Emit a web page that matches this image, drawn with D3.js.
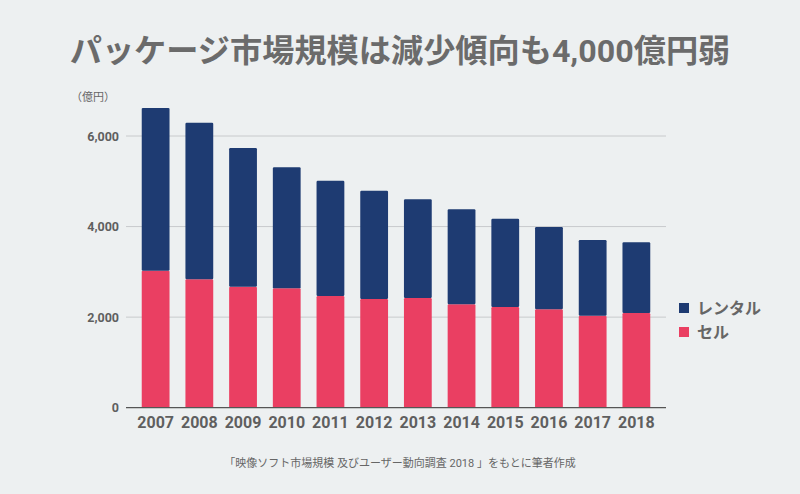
<!DOCTYPE html>
<html><head><meta charset="utf-8">
<script src="https://cdn.jsdelivr.net/npm/d3@7"></script>
<style>
html,body{margin:0;padding:0;background:#edf0f1;}
svg{display:block;}
</style></head>
<body>
<svg id="c" width="800" height="494"></svg>
<script>
const years = ["2007","2008","2009","2010","2011","2012","2013","2014","2015","2016","2017","2018"];
const sell   = [3026,2836,2672,2636,2467,2400,2423,2283,2224,2173,2032,2091];
const totals = [6620,6294,5735,5309,5013,4792,4602,4382,4174,3991,3704,3653];
const rental = totals.map((t,i)=>t - sell[i]);
const yTicks = [0,2000,4000,6000];
const seriesNames = ["レンタル","セル"];
const colors = {"レンタル":"#1e3b72","セル":"#ea3f62"};
const title = "パッケージ市場規模は減少傾向も4,000億円弱";
const unitLabel = "（億円）";
const note = "「映像ソフト市場規模 及びユーザー動向調査 2018 」をもとに筆者作成";

const JP = "Roboto,'Noto Sans CJK JP',sans-serif";
const NUM = "Roboto,'Noto Sans',sans-serif";

const svg = d3.select("#c");
svg.append("rect").attr("width",800).attr("height",494).attr("fill","#edf0f1");

const x = d3.scaleBand().domain(years).range([126,666]).paddingInner(0.364).paddingOuter(0.36);
const y = d3.scaleLinear().domain([0,6000]).range([407.7,136]);

// gridlines
svg.append("g").selectAll("line").data(yTicks.filter(d=>d>0)).join("line")
  .attr("x1",126).attr("x2",666).attr("y1",d=>y(d)).attr("y2",d=>y(d))
  .attr("stroke","#c8cacc").attr("stroke-width",1);

// y axis labels
const yAxis = d3.axisLeft(y).tickValues(yTicks).tickFormat(d3.format(",")).tickSize(0).tickPadding(7);
const yg = svg.append("g").attr("transform","translate(126,0)").call(yAxis);
yg.select(".domain").remove();
yg.selectAll("text").style("font-size","12.5px").style("font-weight","bold").style("fill","#5f5f5f").style("font-family",NUM);

// stacked bars
const data = years.map((yr,i)=>({year:yr,"セル":sell[i],"レンタル":rental[i]}));
const stack = d3.stack().keys(["セル","レンタル"])(data);
svg.append("g").selectAll("g").data(stack).join("g")
  .attr("fill",d=>colors[d.key])
  .selectAll("rect").data(d=>d).join("rect")
  .attr("x",d=>x(d.data.year)).attr("width",x.bandwidth())
  .attr("y",d=>y(d[1])).attr("height",d=>y(d[0])-y(d[1]))
  .attr("rx",1.2);

// baseline
svg.append("line").attr("x1",126).attr("x2",666).attr("y1",y(0)).attr("y2",y(0))
  .attr("stroke","#555").attr("stroke-width",1.2);

// x axis labels
const xAxis = d3.axisBottom(x).tickSize(0).tickPadding(9);
const xg = svg.append("g").attr("transform",`translate(0,${y(0)})`).call(xAxis);
xg.select(".domain").remove();
xg.selectAll("text").style("font-size","16px").style("font-weight","bold").style("fill","#5f5f5f").style("font-family",NUM);

// unit label
svg.append("text").attr("x",71).attr("y",101).style("font-size","11px").style("fill","#666").style("font-family",JP).text(unitLabel);

// title
svg.append("text").attr("x",400).attr("y",62).attr("text-anchor","middle")
  .style("font-size","32.2px").style("font-weight","bold").style("fill","#6b6b6b").style("font-family",JP).text(title);

// legend
const lg = svg.append("g").selectAll("g").data(seriesNames).join("g")
  .attr("transform",(d,i)=>`translate(679,${303+i*24})`);
lg.append("rect").attr("width",10).attr("height",10).attr("fill",d=>colors[d]);
lg.append("text").attr("x",18).attr("y",5).attr("dy","0.35em")
  .style("font-size","16px").style("font-weight","bold").style("fill","#666").style("font-family",JP).text(d=>d);

// footnote
svg.append("text").attr("x",400).attr("y",467).attr("text-anchor","middle")
  .style("font-size","11px").style("fill","#666").style("font-family",JP).text(note);
</script>
</body></html>
